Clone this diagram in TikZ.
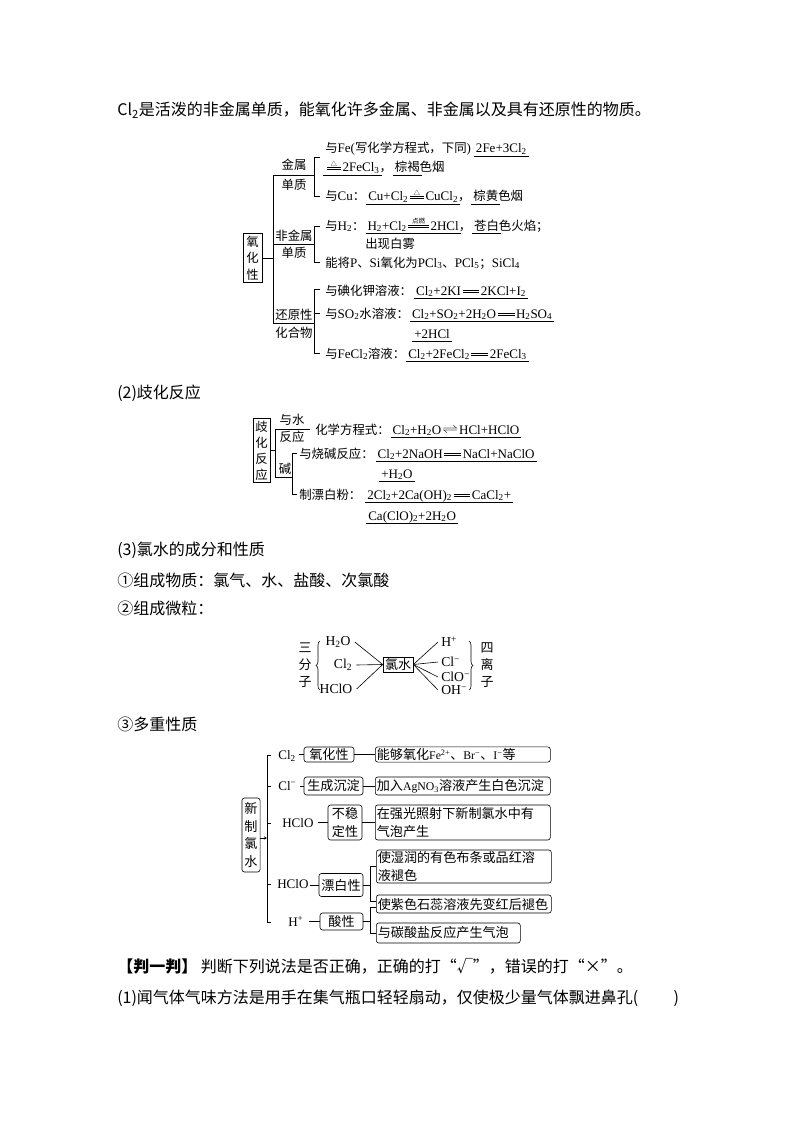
\documentclass[tikz,border=0pt]{standalone}
\usepackage{graphicx}
\usepackage{fontspec}
\setmainfont{Noto Sans CJK SC}
\newfontfamily\cjk{Noto Sans CJK SC}
\newfontfamily\latA[Scale=1.05]{Liberation Serif}
\newfontfamily\latB[Scale=0.9]{Liberation Serif}
\usetikzlibrary{decorations.pathreplacing,arrows.meta}
\let\curlat\latA
\newcommand\tx[1]{{\curlat #1}}
\newcommand\sbs[1]{\textsubscript{#1}}
\newcommand\sups[1]{\textsuperscript{#1}}
\newcommand\eqbar[1]{\vbox{\offinterlineskip\hrule width #1 height 0.6pt\kern1.4pt\hrule width #1 height 0.6pt}}
\newcommand\deq{\kern1.5pt\raisebox{0.17em}{\eqbar{1.3em}}\kern1.5pt}
\newcommand\ceq[2]{\kern1.5pt\raisebox{0.17em}{\vbox{\offinterlineskip\hbox to #2{\hss\fontsize{6.5}{7}\selectfont\cjk #1\hss}\kern0.8pt\eqbar{#2}}}\kern1.5pt}
\newcommand\revarr{\kern1pt\raisebox{0.05em}{\scalebox{1.35}[1]{$\rightleftharpoons$}}\kern1pt}
\newcommand\ans[1]{{\setbox0\hbox{#1}\rlap{\kern-2pt\rule[-3.8pt]{\dimexpr\wd0+4pt\relax}{0.6pt}}\box0}}
\newcommand\fontA{\fontsize{12.4}{16.5}\selectfont\let\curlat\latA}
\newcommand\fontC{\fontsize{13}{17}\selectfont\let\curlat\latA}
\newcommand\fontD{\fontsize{13.1}{17.5}\selectfont\let\curlat\latB}
\newcommand\fontE{\fontsize{14.5}{17}\selectfont\let\curlat\latB}
\newcommand\fontBody{\fontsize{16}{20}\selectfont}
\tikzset{
  tb/.style={anchor=base west, inner sep=0pt, font=\fontBody},
  t1/.style={anchor=base west, inner sep=0pt, font=\fontA},
  lab1/.style={inner sep=0pt, font=\fontA},
  t3/.style={inner sep=0pt, font=\fontC},
  t4/.style={anchor=base west, inner ysep=0pt, font=\fontE},
  bx/.style={draw, rounded corners=2.5pt, inner sep=1.5pt, font=\fontD},
  wb/.style={bx, anchor=west, text width=172pt, align=left},
}
\begin{document}
\begin{tikzpicture}[x=1pt,y=-1pt,line width=0.6pt]
\fill[white] (0,0) rectangle (794,1123);
\useasboundingbox (0,0) rectangle (794,1123);

% ---------- body text ----------
\node[tb] (p1) at (117,116) {Cl\sbs{2}是活泼的非金属单质，能氧化许多金属、非金属以及具有还原性的物质。};
\node[tb] (p2) at (117,398) {(2)歧化反应};
\node[tb] (p3) at (117,555) {(3)氯水的成分和性质};
\node[tb] (p4) at (117,586) {①组成物质：氯气、水、盐酸、次氯酸};
\node[tb] (p5) at (117,614) {②组成微粒：};
\node[tb] (p6) at (117,730) {③多重性质};
\node[tb] (p7) at (117,972) {{\bfseries【判一判】}\ 判断下列说法是否正确，正确的打“√”，错误的打“×”。};
\node[tb] (p8) at (117,1003) {(1)闻气体气味方法是用手在集气瓶口轻轻扇动，仅使极少量气体飘进鼻孔(\hspace{2.2em})};

% ---------- section 1: 氧化性 ----------
\node[draw, align=center, inner xsep=3.5pt, inner ysep=2.5pt, font=\fontA] (yhx) at (252.5,258) {氧\\化\\性};
\coordinate (sp1) at (273,175);
\draw (yhx.east) -- (yhx.east -| sp1);
\draw (314,175) -- (273,175) -- (273,323) -- (314,323);
\draw (273,244) -- (314,244);
\node[lab1] (jin) at (294,165) {金属};
\node[lab1] (dz1) at (294,185) {单质};
\node[lab1] (fjs) at (294,236) {非金属};
\node[lab1] (dz2) at (294,253) {单质};
\node[lab1] (hyx) at (294,315) {还原性};
\node[lab1] (hhw) at (294,333) {化合物};
\draw (320,157) -- (314,157) -- (314,196) -- (320,196);
\draw (320,226) -- (314,226) -- (314,262) -- (320,262);
\draw (320,289) -- (314,289) -- (314,353) -- (320,353);
\draw (314,313) -- (320,313);

\node[t1] (a1) at (325,153) {与\tx{Fe(}写化学方程式，下同\tx{)}\kern5pt\ans{\tx{2Fe+3Cl\sbs{2}}}};
\node[t1] (a2) at (325,172) {\ans{\tx{\ceq{△}{1.1em}2FeCl\sbs{3}}}，\kern3pt\ans{棕褐}色烟};
\node[t1] (a3) at (325,201) {与\tx{Cu}：\kern3pt\ans{\tx{Cu+Cl\sbs{2}\ceq{△}{1.1em}CuCl\sbs{2}}}，\kern3pt\ans{棕黄}色烟};
\node[t1] (a4) at (325,230) {与\tx{H\sbs{2}}：\kern3pt\ans{\tx{H\sbs{2}+Cl\sbs{2}\ceq{点燃}{1.6em}2HCl}}，\kern3pt\ans{苍白}色火焰；};
\node[t1] (a5) at (365,248) {出现白雾};
\node[t1] (a6) at (325,267) {能将\tx{P}、\tx{Si}氧化为\tx{PCl\sbs{3}}、\tx{PCl\sbs{5}}；\tx{SiCl\sbs{4}}};
\node[t1] (a7) at (325,295) {与碘化钾溶液：\kern4pt\ans{\tx{Cl\sbs{2}+2KI\deq 2KCl+I\sbs{2}}}};
\node[t1] (a8) at (325,318) {与\tx{SO\sbs{2}}水溶液：\kern3pt\ans{\tx{Cl\sbs{2}+SO\sbs{2}+2H\sbs{2}O\deq H\sbs{2}SO\sbs{4}}}};
\node[t1] (a9) at (414,338) {\ans{\tx{+2HCl}}};
\node[t1] (a10) at (325,358) {与\tx{FeCl\sbs{2}}溶液：\kern3pt\ans{\tx{Cl\sbs{2}+2FeCl\sbs{2}\deq 2FeCl\sbs{3}}}};

% ---------- section 2: 歧化反应 ----------
\node[draw, align=center, inner xsep=2.5pt, inner ysep=2.5pt, font=\fontsize{12.4}{16}\selectfont] (qh) at (261.5,450.5) {歧\\化\\反\\应};
\coordinate (sp2) at (275,429);
\draw (qh.east) -- (qh.east -| sp2);
\draw (310,429) -- (275,429) -- (275,477) -- (292,477);
\node[lab1] (ys) at (292,420) {与水};
\node[lab1] (fy) at (292,437) {反应};
\node[lab1] (jian) at (285,469) {碱};
\draw (297,453) -- (292,453) -- (292,494) -- (297,494);
\node[t1] (b1) at (315,434) {化学方程式：\kern3pt\ans{\tx{Cl\sbs{2}+H\sbs{2}O\revarr HCl+HClO}}};
\node[t1] (b2) at (299,458) {与烧碱反应：\kern4pt\ans{\tx{Cl\sbs{2}+2NaOH\deq NaCl+NaClO}}};
\node[t1] (b3) at (381,478) {\ans{\tx{+H\sbs{2}O}}};
\node[t1] (b4) at (299,499) {制漂白粉：\kern6pt\ans{\tx{2Cl\sbs{2}+2Ca(OH)\sbs{2}\deq CaCl\sbs{2}+}}};
\node[t1] (b5) at (368,520) {\ans{\tx{Ca(ClO)\sbs{2}+2H\sbs{2}O}}};

% ---------- section 3: 组成微粒 ----------
\node[t3, align=center] (sfz) at (305,665) {三\\分\\子};
\node[t3, align=center] (slz) at (487,665) {四\\离\\子};
\draw[decorate, decoration={brace, amplitude=4pt}] (320,690) -- (320,641);
\draw[decorate, decoration={brace, amplitude=4pt}] (469,641) -- (469,690);
\node[t3, inner xsep=4pt] (h2o) at (338,642) {\tx{H\sbs{2}O}};
\node[t3, inner xsep=4pt] (cl2m) at (343,665) {\tx{Cl\sbs{2}}};
\node[t3, inner xsep=4pt] (hclom) at (336,689) {\tx{HClO}};
\node[t3, draw, minimum width=30pt, minimum height=15pt, inner sep=1pt] (lsb) at (398,664.5) {氯水};
\node[t3, anchor=west, inner xsep=3pt] (hp) at (438,642) {\tx{H\sups{+}}};
\node[t3, anchor=west, inner xsep=3pt] (clm) at (438,662) {\tx{Cl\sups{−}}};
\node[t3, anchor=west, inner xsep=3pt] (clom) at (438,677) {\tx{ClO\sups{−}}};
\node[t3, anchor=west, inner xsep=3pt] (ohm) at (438,690) {\tx{OH\sups{−}}};
\draw (h2o.east) -- (lsb.west);
\draw (cl2m.east) -- (lsb.west);
\draw (hclom.east) -- (lsb.west);
\draw (lsb.east) -- (hp.west);
\draw (lsb.east) -- (clm.west);
\draw (lsb.east) -- (clom.west);
\draw (lsb.east) -- (ohm.west);

% ---------- section 4: 多重性质 ----------
\node[bx, align=center, inner xsep=2.5pt, minimum height=74pt] (xz) at (251,835) {新\\制\\氯\\水};
\coordinate (sp4) at (267,838);
\draw[-{Stealth[length=3pt,width=3pt]}] (xz.east |- sp4) -- (sp4);
\draw (267,755) -- (267,922);
\foreach \yy in {755,786,823,884,922} \draw (267,\yy) -- (271,\yy);

\node[t4, inner xsep=3pt] (r1) at (275,759.5) {\tx{Cl\sbs{2}}};
\node[t4, inner xsep=3pt] (r2) at (275,790.5) {\tx{Cl\sups{−}}};
\node[t4, inner xsep=4pt] (r3) at (278,827.5) {\tx{HClO}};
\node[t4, inner xsep=1pt] (r4) at (276,888.5) {\tx{HClO}};
\node[t4, inner xsep=5pt] (r5) at (283,926.5) {\tx{H\sups{+}}};

\node[bx, minimum width=50pt, minimum height=15pt] (ob1) at (329,754.5) {氧化性};
\node[wb, minimum height=15pt] (ob2) at (375,754.5) {能够氧化\tx{Fe\sups{2+}}、\tx{Br\sups{−}}、\tx{I\sups{−}}等};
\node[bx, minimum width=59pt, minimum height=18pt] (cb1) at (333.5,786) {生成沉淀};
\node[wb, minimum height=18pt] (cb2) at (375,786) {加入\tx{AgNO\sbs{3}}溶液产生白色沉淀};
\node[bx, align=center, minimum width=34pt, minimum height=35pt] (ub1) at (345,822.5) {不稳\\定性};
\node[wb, minimum height=35pt] (ub2) at (375,822.5) {在强光照射下新制氯水中有\\气泡产生};
\node[bx, minimum width=44pt, minimum height=23pt] (pb1) at (341,885) {漂白性};
\node[wb, minimum height=33pt] (pA) at (376,866.5) {使湿润的有色布条或品红溶\\液褪色};
\node[wb, minimum height=18pt] (pB) at (376,904) {使紫色石蕊溶液先变红后褪色};
\node[bx, minimum width=43pt, minimum height=17pt] (sb1) at (341.5,921.5) {酸性};
\node[bx, anchor=west, text width=141pt, align=left, minimum height=20pt] (pC) at (376,933) {与碳酸盐反应产生气泡};

\draw (r1.east |- ob1.west) -- (ob1.west);
\draw (r2.east |- cb1.west) -- (cb1.west);
\draw (r3.east |- ub1.west) -- (ub1.west);
\draw (r4.east |- pb1.west) -- (pb1.west);
\draw (r5.east |- sb1.west) -- (sb1.west);
\draw (ob1.east) -- (ob2.west);
\draw (cb1.east) -- (cb2.west);
\draw (ub1.east) -- (ub2.west);
\coordinate (br1) at (370,885);
\coordinate (br2) at (370,921.5);
\draw (pb1.east) -- (br1);
\draw (pA.west) -- (pA.west -| br1) -- (370,901) -- (376,901);
\draw (sb1.east) -- (br2);
\draw (376,907) -- (370,907) -- (pC.west -| br2) -- (pC.west);
\end{tikzpicture}
\end{document}
